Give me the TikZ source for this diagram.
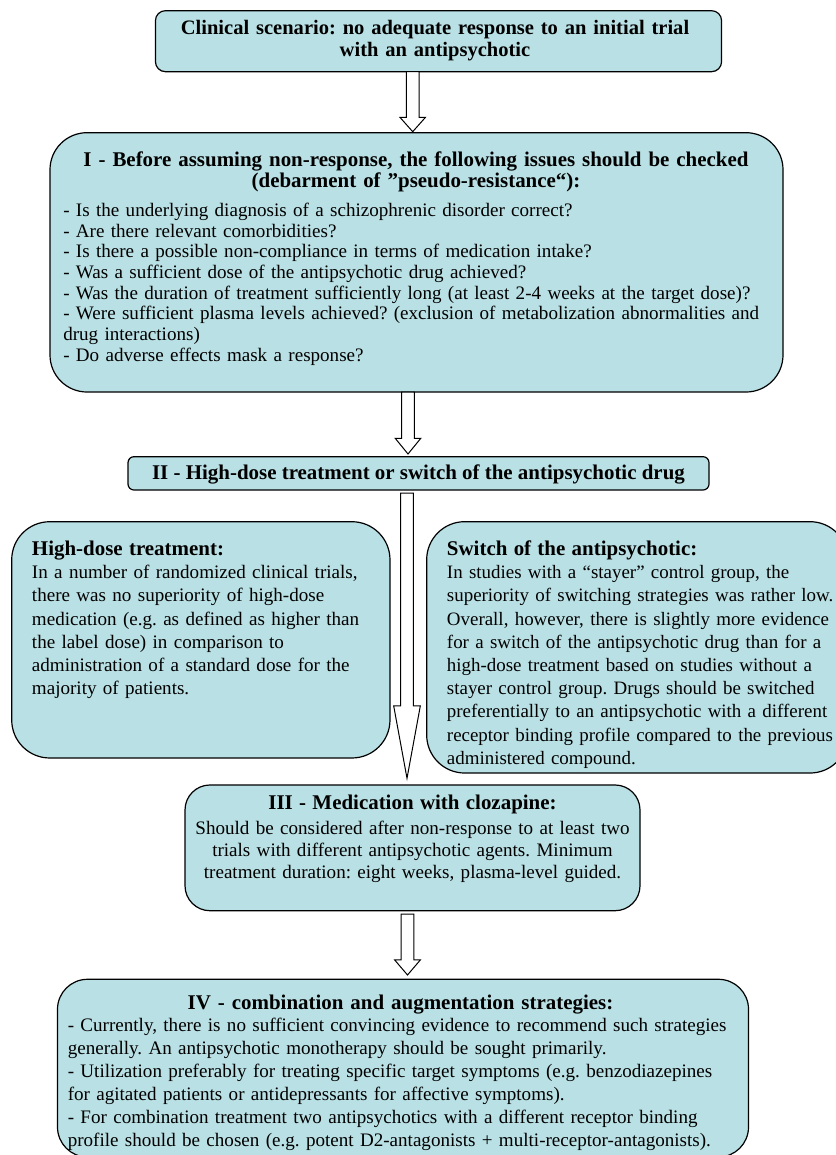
\documentclass[tikz,border=0pt]{standalone}
\usepackage{fontspec}
\setmainfont{Liberation Serif}
\usetikzlibrary{calc}
\definecolor{boxfill}{RGB}{185,224,228}
\frenchspacing

\newcommand{\hollowarrow}[4][12.8]{%
    \coordinate (hs) at (#2);
    \coordinate (he) at (#3);
    \draw[arrowbody] ($(hs)+(-6.3,0)$) -- ($(he)+(-6.3,#4)$) -- ($(he)+(-#1,#4)$)
        -- (he) -- ($(he)+(#1,#4)$) -- ($(he)+(6.3,#4)$) -- ($(hs)+(6.3,0)$) -- cycle;
}

\begin{document}
\begin{tikzpicture}[x=0.75pt,y=0.75pt,
    panel/.style={draw=black,fill=boxfill,line width=0.9pt,inner sep=0pt,outer sep=0pt},
    headtxt/.style={font=\fontsize{15.7}{16.3}\selectfont\bfseries,inner sep=0pt,anchor=base,align=center},
    bodytxt/.style={font=\fontsize{14.3}{17.4}\selectfont,inner sep=0pt,anchor=base west,align=left},
    arrowbody/.style={draw=black,fill=white,line width=0.75pt,line join=miter}]
    \useasboundingbox (0,0) rectangle (835,-1155);

    \node[panel,rounded corners=7.5pt,minimum width=424.6pt,minimum height=45.75pt] (start) at (438.5,-41.2) {};
    \node[panel,rounded corners=27.75pt,minimum width=549.75pt,minimum height=194.5pt] (check) at (416.5,-262.35) {};
    \node[panel,rounded corners=4.5pt,minimum width=435.75pt,minimum height=25pt] (stage2) at (418.5,-473.35) {};
    \node[panel,rounded corners=28.5pt,minimum width=283.7pt,minimum height=177.2pt] (highdose) at (200.85,-639.85) {};
    \node[panel,rounded corners=28.5pt,minimum width=316pt,minimum height=188.5pt] (switch) at (637.35,-647.35) {};
    \node[panel,rounded corners=18.75pt,minimum width=341.25pt,minimum height=94.3pt] (clozapine) at (412.5,-847.85) {};
    \node[panel,rounded corners=22.5pt,minimum width=518.25pt,minimum height=133.3pt] (combo) at (403,-1068.15) {};

    \node[headtxt,text width=420pt,font=\fontsize{15.4}{16.3}\selectfont\bfseries] (starttxt) at (435,-34.5)
        {Clinical scenario: no adequate response to an initial trial\\with an antipsychotic};

    \node[headtxt,text width=540pt,font=\fontsize{15.7}{15.2}\selectfont\bfseries] (checkhead) at (416,-167)
        {I - Before assuming non-response, the following issues should be checked\\(debarment of ”pseudo-resistance“):};
    \node[bodytxt,text width=540pt,font=\fontsize{14.3}{15.5}\selectfont] (checkbody) at (63,-216.5)
        {- Is the underlying diagnosis of a schizophrenic disorder correct?\\
         - Are there relevant comorbidities?\\
         - Is there a possible non-compliance in terms of medication intake?\\
         - Was a sufficient dose of the antipsychotic drug achieved?\\
         - Was the duration of treatment sufficiently long (at least 2-4 weeks at the target dose)?\\
         - Were sufficient plasma levels achieved? (exclusion of metabolization abnormalities and\\
         drug interactions)\\
         - Do adverse effects mask a response?};

    \node[headtxt] (stage2txt) at (418.5,-479.5)
        {II - High-dose treatment or switch of the antipsychotic drug};

    \node[bodytxt,text width=270pt] (highdosetxt) at (31.7,-555.5)
        {\textbf{\fontsize{15.7}{17.4}\selectfont High-dose treatment:}\\
         In a number of randomized clinical trials,\\
         there was no superiority of high-dose\\
         medication (e.g. as defined as higher than\\
         the label dose) in comparison to\\
         administration of a standard dose for the\\
         majority of patients.};

    \node[bodytxt,text width=300pt,font=\fontsize{14.2}{17.4}\selectfont] (switchtxt) at (446.7,-555.5)
        {\textbf{\fontsize{15.7}{17.4}\selectfont Switch of the antipsychotic:}\\
         In studies with a “stayer” control group, the\\
         superiority of switching strategies was rather low.\\
         Overall, however, there is slightly more evidence\\
         for a switch of the antipsychotic drug than for a\\
         high-dose treatment based on studies without a\\
         stayer control group. Drugs should be switched\\
         preferentially to an antipsychotic with a different\\
         receptor binding profile compared to the previous\\
         administered compound.};

    \node[bodytxt,anchor=base,align=center,text width=337.5pt,font=\fontsize{14.3}{16.5}\selectfont] (clozapinetxt) at (412.5,-809.5)
        {\textbf{\fontsize{15.7}{16.5}\selectfont III - Medication with clozapine:}\\[2.2pt]
         Should be considered after non-response to at least two\\
         trials with different antipsychotic agents. Minimum\\
         treatment duration: eight weeks, plasma-level guided.};

    \node[headtxt,text width=510pt] (combohead) at (400.5,-1009.8)
        {IV - combination and augmentation strategies:};
    \node[bodytxt,text width=510pt,font=\fontsize{14.3}{17.3}\selectfont] (combobody) at (67.5,-1031.5)
        {- Currently, there is no sufficient convincing evidence to recommend such strategies\\
         generally. An antipsychotic monotherapy should be sought primarily.\\
         - Utilization preferably for treating specific target symptoms (e.g. benzodiazepines\\
         for agitated patients or antidepressants for affective symptoms).\\
         - For combination treatment two antipsychotics with a different receptor binding\\
         profile should be chosen (e.g. potent D2-antagonists + multi-receptor-antagonists).};

    \coordinate (a1) at (412.7,0);
    \coordinate (a2) at (408,0);
    \coordinate (a3) at (407,0);
    \coordinate (a4) at (407.5,0);
    \hollowarrow{a1 |- start.south}{$(a1 |- check.north)+(0,1)$}{14.4}
    \hollowarrow{a2 |- check.south}{$(a2 |- stage2.north)+(0,2.7)$}{15.7}
    \hollowarrow[13.3]{$(a3 |- stage2.south)+(0,-3)$}{$(a3 |- clozapine.north)+(0,6.7)$}{72.3}
    \hollowarrow{$(a4 |- clozapine.south)+(0,-3.3)$}{$(a4 |- combo.north)+(0,4.3)$}{15}
\end{tikzpicture}
\end{document}
